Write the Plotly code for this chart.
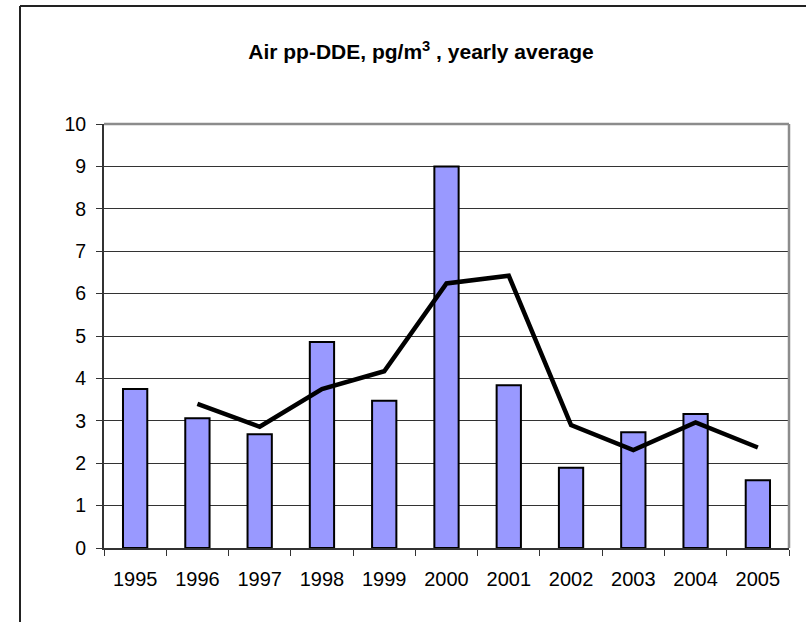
import plotly.graph_objects as go

# Yearly averages of pp-DDE in air (pg/m3)
years = ["1995", "1996", "1997", "1998", "1999", "2000",
         "2001", "2002", "2003", "2004", "2005"]
yearly_avg = [3.75, 3.06, 2.68, 4.86, 3.47, 9.0, 3.84, 1.89, 2.73, 3.16, 1.60]

# Two-year running mean, starting from 1996
trend_years = ["1996", "1997", "1998", "1999", "2000",
               "2001", "2002", "2003", "2004", "2005"]
trend_vals = [3.40, 2.86, 3.75, 4.17, 6.24, 6.42, 2.90, 2.31, 2.96, 2.37]

y_ticks = list(range(0, 11))

fig = go.Figure()
fig.add_trace(go.Bar(
    x=years, y=yearly_avg,
    marker=dict(color="#9999FF", line=dict(color="#000000", width=2)),
    width=0.39,
))
fig.add_trace(go.Scatter(
    x=trend_years, y=trend_vals, mode="lines",
    line=dict(color="#000000", width=4.5),
))

fig.update_layout(
    width=806, height=622,
    margin=dict(l=104, r=17, t=124, b=74),
    paper_bgcolor="white", plot_bgcolor="white",
    showlegend=False,
    font=dict(family="Liberation Sans, Arial, sans-serif", color="#000000"),
    title=dict(
        text="<b>Air pp-DDE, pg/m<sup>3</sup> , yearly average</b>",
        x=421 / 806, xanchor="center",
        y=1 - 52 / 622, yanchor="middle",
        font=dict(size=21, family="Liberation Sans, Arial, sans-serif", color="#000000"),
    ),
    xaxis=dict(
        type="category", categoryorder="array", categoryarray=years,
        tickson="boundaries", ticks="outside", ticklen=6, tickwidth=1,
        tickcolor="#333333",
        showline=True, linecolor="#333333", linewidth=2,
        showgrid=False, tickfont=dict(size=20), zeroline=False,
        range=[-0.5, 10.5], ticklabelstandoff=12,
    ),
    yaxis=dict(
        range=[0, 10], tickvals=y_ticks,
        ticks="outside", ticklen=6, tickwidth=1, tickcolor="#333333",
        showline=True, linecolor="#333333", linewidth=2,
        showgrid=True, gridcolor="#333333", gridwidth=1,
        zeroline=False, tickfont=dict(size=19.5), ticklabelstandoff=6,
    ),
    shapes=[
        # gray frame on the top and right of the plotting area
        dict(type="line", xref="paper", yref="paper", x0=0, x1=1, y0=1, y1=1,
             line=dict(color="#8c8c8c", width=2.5), layer="above"),
        dict(type="line", xref="paper", yref="paper", x0=1, x1=1, y0=0, y1=1,
             line=dict(color="#8c8c8c", width=2.5), layer="above"),
        # outer chart border (left and top edges)
        dict(type="line", xref="paper", yref="paper",
             x0=-84 / 685, x1=-84 / 685, y0=-0.3, y1=542 / 424,
             line=dict(color="#222222", width=2)),
        dict(type="line", xref="paper", yref="paper",
             x0=-84 / 685, x1=1.1, y0=542 / 424, y1=542 / 424,
             line=dict(color="#222222", width=2)),
    ],
)

fig.write_html("out.html")
